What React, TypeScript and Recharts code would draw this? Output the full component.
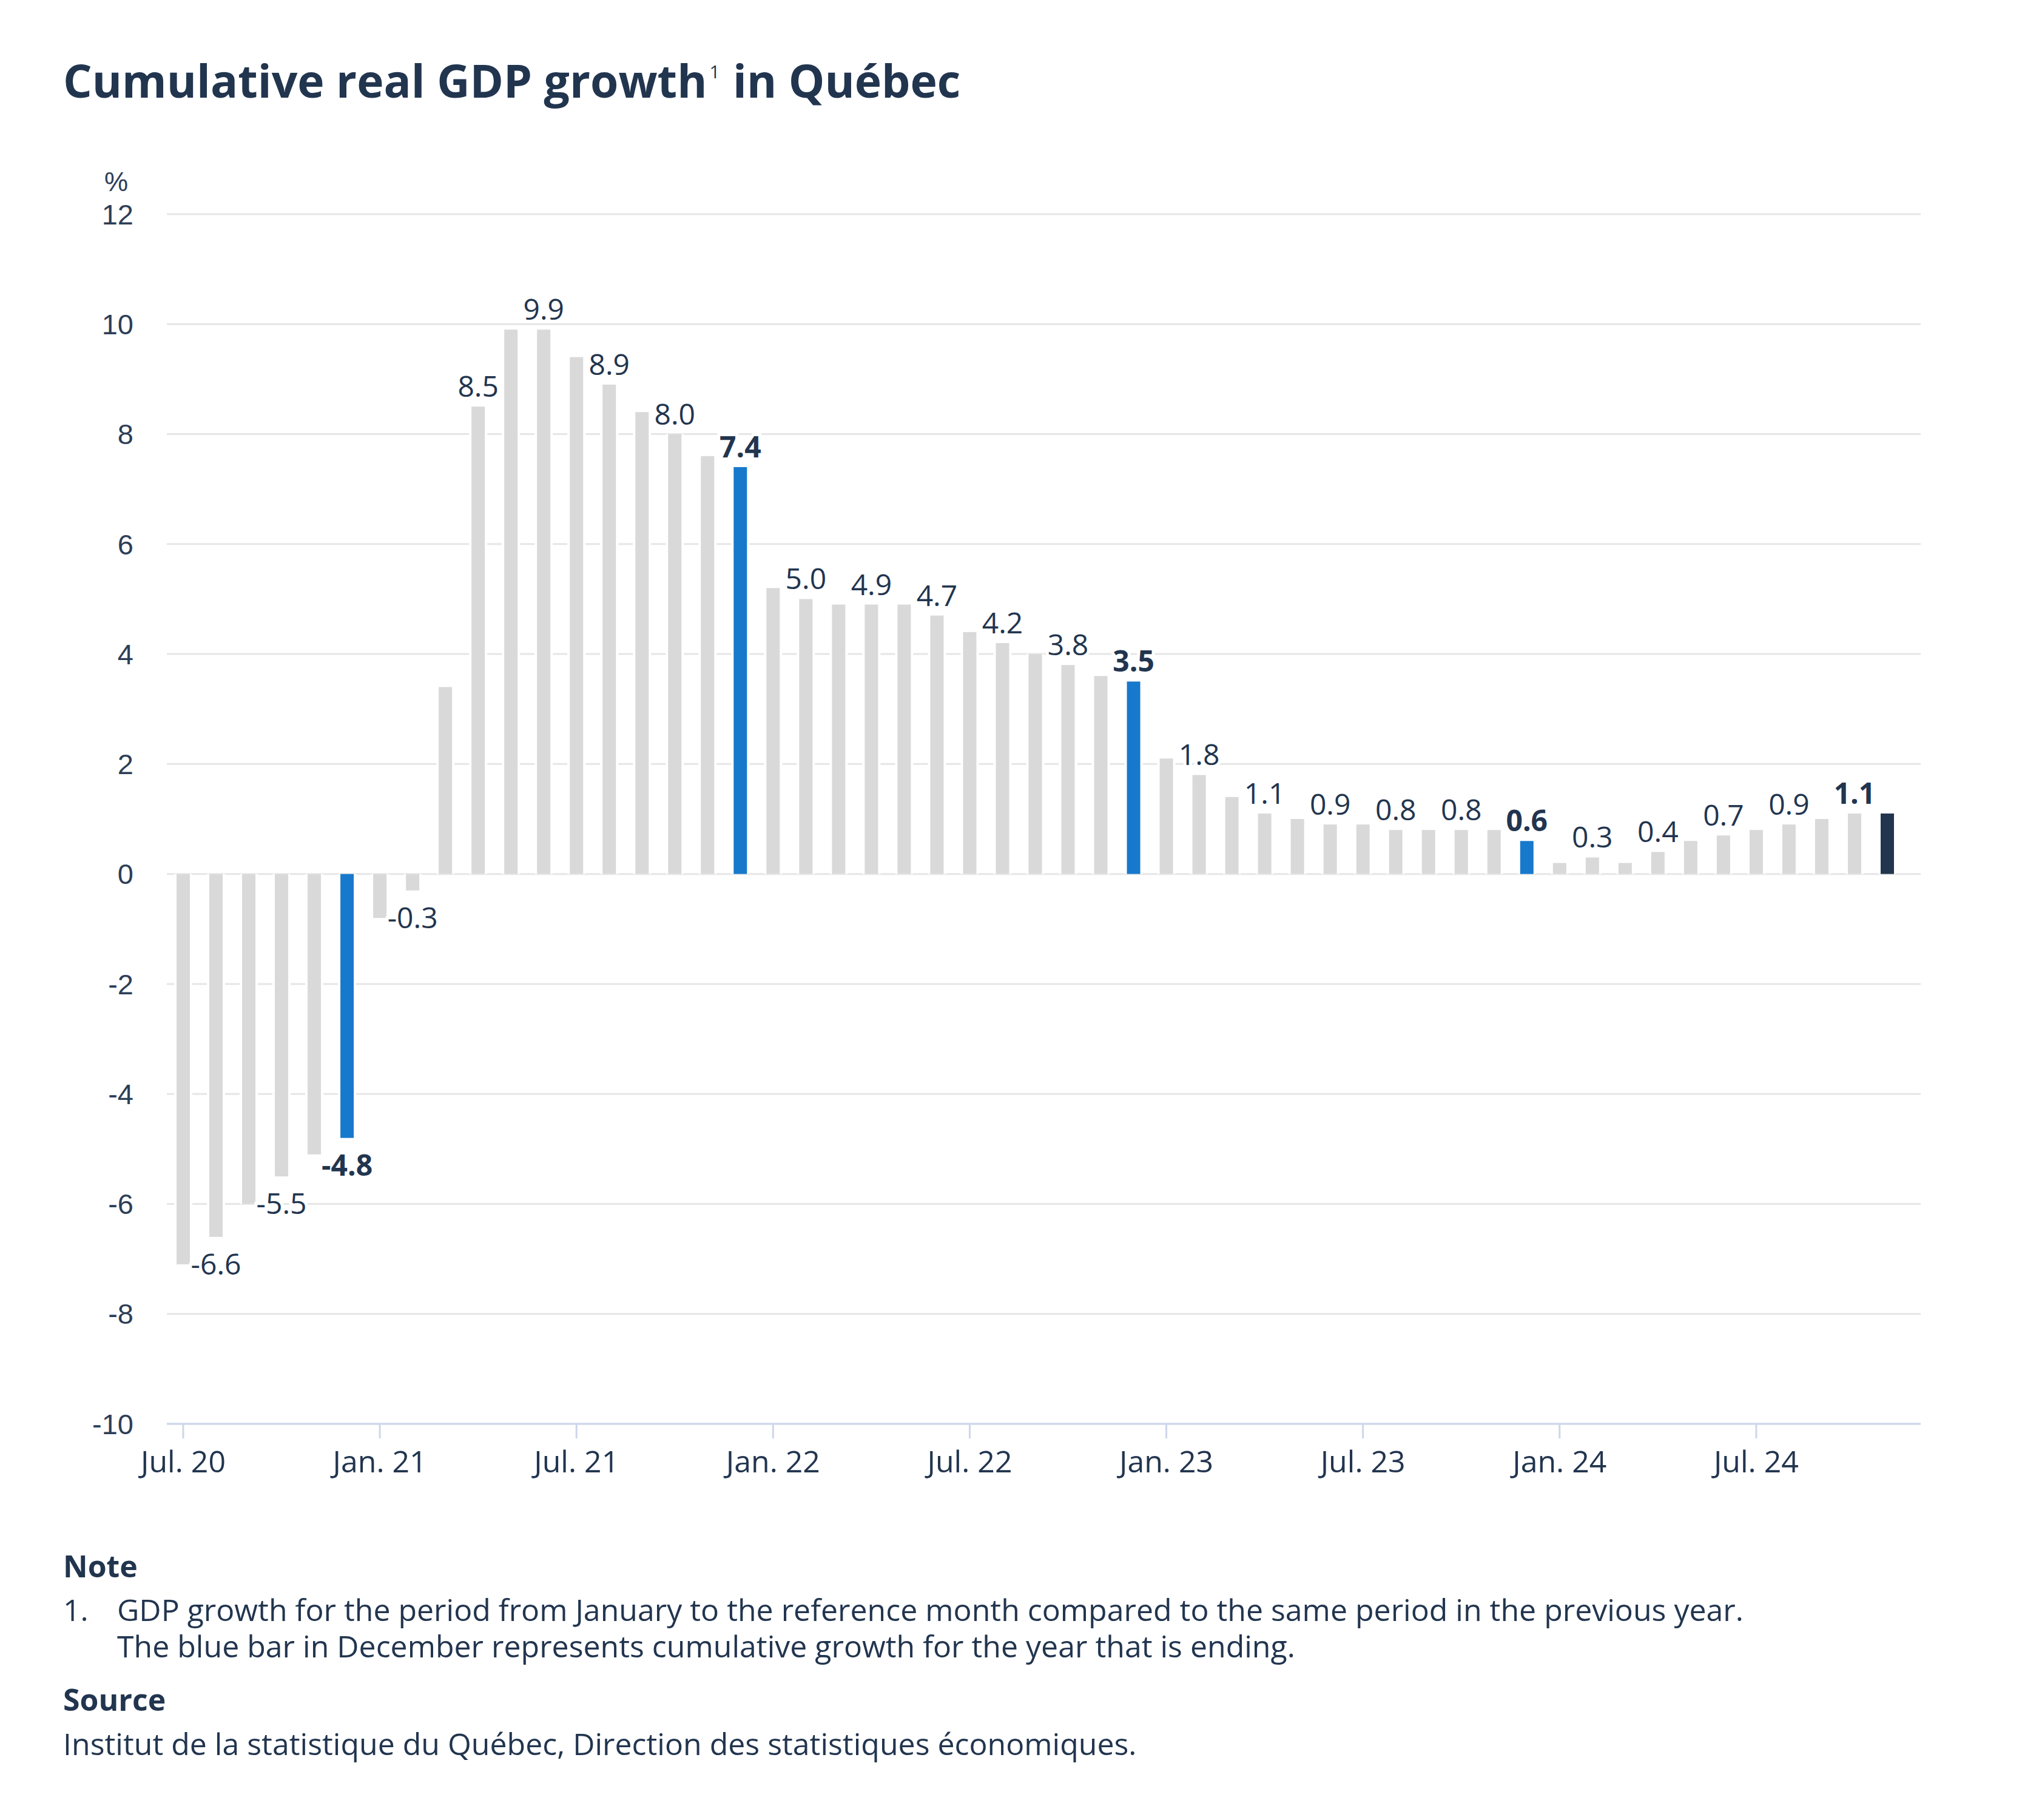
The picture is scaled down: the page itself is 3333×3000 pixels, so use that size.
import React from 'react';
import { BarChart, Bar, XAxis, YAxis, CartesianGrid } from 'recharts';

const MONTHS = [
  'Jul. 20', 'Aug. 20', 'Sep. 20', 'Oct. 20', 'Nov. 20', 'Dec. 20',
  'Jan. 21', 'Feb. 21', 'Mar. 21', 'Apr. 21', 'May 21', 'Jun. 21',
  'Jul. 21', 'Aug. 21', 'Sep. 21', 'Oct. 21', 'Nov. 21', 'Dec. 21',
  'Jan. 22', 'Feb. 22', 'Mar. 22', 'Apr. 22', 'May 22', 'Jun. 22',
  'Jul. 22', 'Aug. 22', 'Sep. 22', 'Oct. 22', 'Nov. 22', 'Dec. 22',
  'Jan. 23', 'Feb. 23', 'Mar. 23', 'Apr. 23', 'May 23', 'Jun. 23',
  'Jul. 23', 'Aug. 23', 'Sep. 23', 'Oct. 23', 'Nov. 23', 'Dec. 23',
  'Jan. 24', 'Feb. 24', 'Mar. 24', 'Apr. 24', 'May 24', 'Jun. 24',
  'Jul. 24', 'Aug. 24', 'Sep. 24', 'Oct. 24', 'Nov. 24',
];

// cumulative real GDP growth, %
const GROWTH = [
  -7.1, -6.6, -6.0, -5.5, -5.1, -4.8,
  -0.8, -0.3, 3.4, 8.5, 9.9, 9.9,
  9.4, 8.9, 8.4, 8.0, 7.6, 7.4,
  5.2, 5.0, 4.9, 4.9, 4.9, 4.7,
  4.4, 4.2, 4.0, 3.8, 3.6, 3.5,
  2.1, 1.8, 1.4, 1.1, 1.0, 0.9,
  0.9, 0.8, 0.8, 0.8, 0.8, 0.6,
  0.2, 0.3, 0.2, 0.4, 0.6, 0.7,
  0.8, 0.9, 1.0, 1.1, 1.1,
];

const LABELLED = [
  'Aug. 20', 'Oct. 20', 'Dec. 20', 'Feb. 21', 'Apr. 21', 'Jun. 21',
  'Aug. 21', 'Oct. 21', 'Dec. 21', 'Feb. 22', 'Apr. 22', 'Jun. 22',
  'Aug. 22', 'Oct. 22', 'Dec. 22', 'Feb. 23', 'Apr. 23', 'Jun. 23',
  'Aug. 23', 'Oct. 23', 'Dec. 23', 'Feb. 24', 'Apr. 24', 'Jun. 24',
  'Aug. 24', 'Oct. 24',
];
const YEAR_END = ['Dec. 20', 'Dec. 21', 'Dec. 22', 'Dec. 23'];
const BOLD_LABELS = ['Dec. 20', 'Dec. 21', 'Dec. 22', 'Dec. 23', 'Oct. 24'];
const LATEST = 'Nov. 24';

const Y_TICKS = [-10, -8, -6, -4, -2, 0, 2, 4, 6, 8, 10, 12];

const NAVY = '#22354f';
const BLUE = '#1779cc';
const GREY = '#d9d9d9';
const FONT = '"Open Sans", sans-serif';
const AXIS_FONT = '"Liberation Sans", Arial, sans-serif';

const data = MONTHS.map((month, i) => ({ month, value: GROWTH[i] }));

const barColor = (month: string) =>
  month === LATEST ? NAVY : YEAR_END.includes(month) ? BLUE : GREY;

const GdpBar = (props: any) => {
  const { x, y, width, height, payload } = props;
  const top = Math.min(y, y + height);
  const h = Math.abs(height);
  const showLabel = LABELLED.includes(payload.month);
  const bold = BOLD_LABELS.includes(payload.month);
  const ty = payload.value >= 0 ? top - 16 : top + h + 62;
  return (
    <g>
      <rect x={x - 4} y={top} width={width + 8} height={h} fill="#fff" />
      <rect x={x} y={top} width={width} height={h} fill={barColor(payload.month)} />
      {showLabel && (
        <text
          x={x + width / 2}
          y={ty}
          textAnchor="middle"
          fontFamily={FONT}
          fontSize={48}
          fontWeight={bold ? 700 : 400}
          fill={NAVY}
          stroke="#fff"
          strokeWidth={10}
          paintOrder="stroke"
        >
          {payload.value.toFixed(1)}
        </text>
      )}
    </g>
  );
};

const textLine = (top: number, left: number): React.CSSProperties => ({
  position: 'absolute',
  top,
  left,
  fontFamily: FONT,
  fontSize: 50,
  lineHeight: 1,
  color: NAVY,
  whiteSpace: 'nowrap',
});

export default function App() {
  return (
    <div style={{ position: 'absolute', left: 0, top: 0, width: 3333, height: 3000, background: '#fff' }}>
      <div style={{ ...textLine(95, 104), fontSize: 75, fontWeight: 700 }}>
        Cumulative real GDP growth
        <span style={{ fontSize: 30, fontWeight: 400, position: 'relative', top: -32, marginLeft: 4, marginRight: 2 }}>1</span>
        {' '}in Québec
      </div>

      <div
        style={{
          position: 'absolute',
          top: 278,
          left: 172,
          fontFamily: AXIS_FONT,
          fontSize: 44,
          lineHeight: 1,
          color: '#2d3e57',
        }}
      >
        %
      </div>

      <div style={{ position: 'absolute', left: 0, top: 0 }}>
        <BarChart
          width={3333}
          height={3000}
          data={data}
          margin={{ top: 353, right: 167, left: 175, bottom: 553 }}
        >
          <CartesianGrid vertical={false} stroke="#e6e6e6" strokeWidth={3} />
          <YAxis
            domain={[-10, 12]}
            ticks={Y_TICKS}
            width={100}
            axisLine={false}
            tickLine={false}
            tickSize={0}
            tickMargin={55}
            interval={0}
            tick={{ fontFamily: AXIS_FONT, fontSize: 47, fill: '#2d3e57' }}
          />
          <XAxis
            dataKey="month"
            height={100}
            interval={5}
            padding={{ left: 0, right: 28 }}
            axisLine={{ stroke: '#cdd7ea', strokeWidth: 3 }}
            tickLine={{ stroke: '#cdd7ea', strokeWidth: 3 }}
            tickSize={24}
            tickMargin={20}
            tick={{ fontFamily: FONT, fontSize: 50, fill: NAVY }}
          />
          <Bar dataKey="value" barSize={22} shape={GdpBar} isAnimationActive={false} />
        </BarChart>
      </div>

      <div style={{ ...textLine(2556, 104), fontWeight: 700 }}>Note</div>
      <div style={textLine(2628, 104)}>1.</div>
      <div style={textLine(2628, 193)}>
        GDP growth for the period from January to the reference month compared to the same period in the previous year.
      </div>
      <div style={textLine(2688, 193)}>
        The blue bar in December represents cumulative growth for the year that is ending.
      </div>
      <div style={{ ...textLine(2776, 104), fontWeight: 700 }}>Source</div>
      <div style={textLine(2849, 104)}>
        Institut de la statistique du Québec, Direction des statistiques économiques.
      </div>
    </div>
  );
}
